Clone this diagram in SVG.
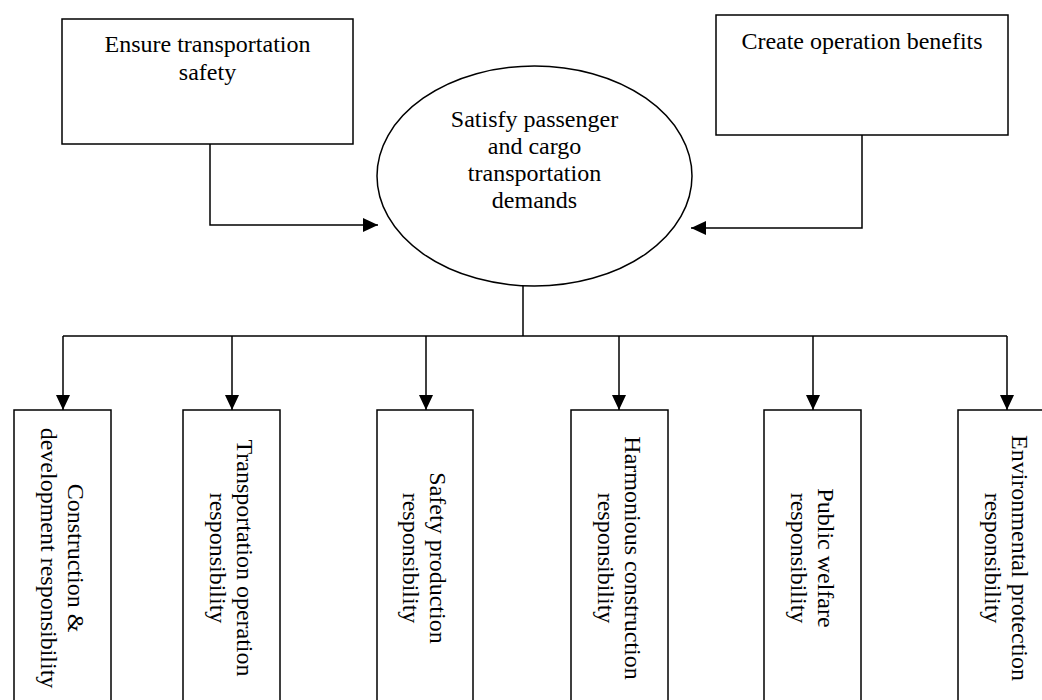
<svg xmlns="http://www.w3.org/2000/svg" width="1042" height="700" viewBox="0 0 1042 700">
<defs>
<style>
.box{fill:#fff;stroke:#000;stroke-width:1.5}
.ln{fill:none;stroke:#000;stroke-width:1.5}
text{font-family:"Liberation Serif","Times New Roman",serif;font-size:24px;fill:#000;text-anchor:middle}
</style>
<marker id="ah" markerUnits="userSpaceOnUse" markerWidth="15" markerHeight="14" refX="15" refY="7" orient="auto">
<path d="M0,0 L15,7 L0,14 z" fill="#000"/>
</marker>
</defs>
<rect width="1042" height="700" fill="#fff"/>
<g id="connectors">
<polyline class="ln" points="210,144 210,225 378,225" marker-end="url(#ah)"/>
<polyline class="ln" points="862,135 862,228 691,228" marker-end="url(#ah)"/>
<line class="ln" x1="523" y1="286" x2="523" y2="336"/>
<line class="ln" x1="63" y1="336" x2="1007" y2="336"/>
<line class="ln" x1="63" y1="336" x2="63" y2="410" marker-end="url(#ah)"/>
<line class="ln" x1="232" y1="336" x2="232" y2="410" marker-end="url(#ah)"/>
<line class="ln" x1="426" y1="336" x2="426" y2="410" marker-end="url(#ah)"/>
<line class="ln" x1="619" y1="336" x2="619" y2="410" marker-end="url(#ah)"/>
<line class="ln" x1="813" y1="336" x2="813" y2="410" marker-end="url(#ah)"/>
<line class="ln" x1="1007" y1="336" x2="1007" y2="410" marker-end="url(#ah)"/>
</g>
<g id="safety">
<rect class="box" x="62" y="19" width="291" height="125"/>
<text x="207.5" y="52">Ensure transportation</text>
<text x="207.5" y="80">safety</text>
</g>
<g id="benefits">
<rect class="box" x="716" y="15" width="292" height="120"/>
<text x="862" y="49">Create operation benefits</text>
</g>
<g id="demands">
<ellipse class="box" cx="534.5" cy="176" rx="157.5" ry="110"/>
<text x="534.5" y="127">Satisfy passenger</text>
<text x="534.5" y="154">and cargo</text>
<text x="534.5" y="181">transportation</text>
<text x="534.5" y="208">demands</text>
</g>
<g id="r1">
<rect class="box" x="14" y="410" width="97" height="296"/>
<g transform="translate(62.5,558) rotate(90)"><text x="0" y="-5">Construction &amp;</text><text x="0" y="22">development responsibility</text></g>
</g>
<g id="r2">
<rect class="box" x="183" y="410" width="97" height="296"/>
<g transform="translate(231.5,558) rotate(90)"><text x="0" y="-5">Transportation operation</text><text x="0" y="22">responsibility</text></g>
</g>
<g id="r3">
<rect class="box" x="377" y="410" width="96" height="296"/>
<g transform="translate(425,558) rotate(90)"><text x="0" y="-5">Safety production</text><text x="0" y="22">responsibility</text></g>
</g>
<g id="r4">
<rect class="box" x="571" y="410" width="97" height="296"/>
<g transform="translate(619.5,558) rotate(90)"><text x="0" y="-5">Harmonious construction</text><text x="0" y="22">responsibility</text></g>
</g>
<g id="r5">
<rect class="box" x="764" y="410" width="97" height="296"/>
<g transform="translate(812.5,558) rotate(90)"><text x="0" y="-5">Public welfare</text><text x="0" y="22">responsibility</text></g>
</g>
<g id="r6">
<rect class="box" x="958" y="410" width="97" height="296"/>
<g transform="translate(1006.5,558) rotate(90)"><text x="0" y="-5">Environmental protection</text><text x="0" y="22">responsibility</text></g>
</g>
</svg>
